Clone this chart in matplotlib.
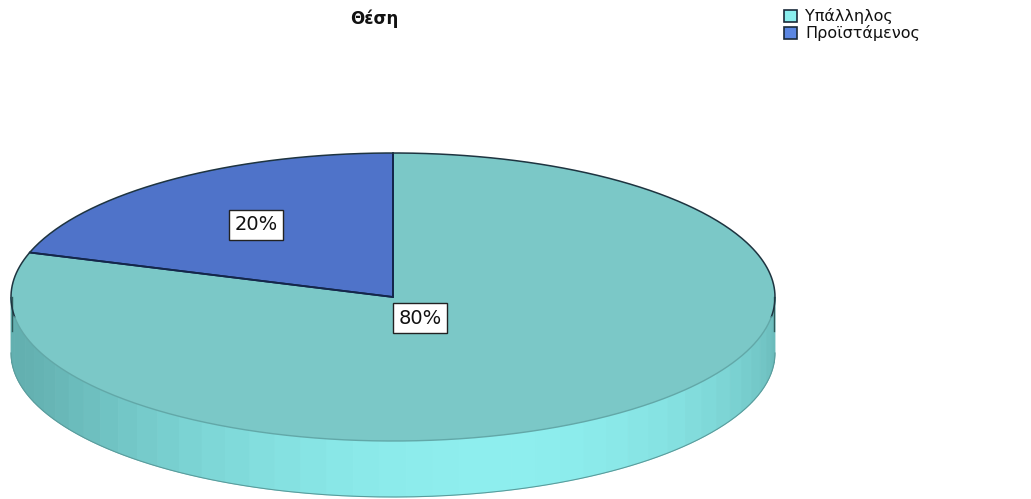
import matplotlib
matplotlib.use("Agg")
import matplotlib.pyplot as plt
import numpy as np
from matplotlib.patches import Polygon, Rectangle

title = "Θέση"
labels = ["Υπάλληλος", "Προϊστάμενος"]
values = [80, 20]
pct_labels = ["80%", "20%"]
top_colors = ["#7bc8c7", "#4f73c9"]
legend_colors = ["#8aeeee", "#5a86e2"]

W, H = 1031, 499
fig = plt.figure(figsize=(W / 100, H / 100), dpi=100)
ax = fig.add_axes([0, 0, 1, 1])
ax.set_xlim(0, W)
ax.set_ylim(H, 0)
ax.axis("off")

# ellipse geometry in pixels
cx, cy = 393, 297
a, b = 382, 144
depth = 56


def pt(theta_deg, dy=0):
    t = np.radians(theta_deg)
    return cx + a * np.cos(t), cy - b * np.sin(t) + dy


# ----------------------------
# Side wall (front half, shaded strips)
# ----------------------------
light = np.array([0x8e, 0xee, 0xee]) / 255
dark = np.array([0x63, 0xb0, 0xb0]) / 255
edges = np.linspace(180, 360, 46)
for t0, t1 in zip(edges[:-1], edges[1:]):
    tm = (t0 + t1) / 2
    c = np.cos(np.radians(tm - 285))
    k = c ** 1.5 if c > 0 else 0
    col = dark + (light - dark) * k
    ts = np.linspace(t0, t1, 6)
    upper = [pt(t) for t in ts]
    lower = [pt(t, depth) for t in ts[::-1]]
    ax.add_patch(Polygon(upper + lower, closed=True, facecolor=col,
                         edgecolor=col, linewidth=0.6))

# bottom rim outline
ts = np.linspace(180, 360, 200)
bx, by = zip(*[pt(t, depth) for t in ts])
ax.plot(bx, by, color="#5a9c9c", lw=0.8)
ax.plot([cx - a + 1, cx - a + 1], [cy, cy + depth * 0.6], color="#2f5a5a", lw=1.0)
ax.plot([cx + a - 1, cx + a - 1], [cy, cy + depth * 0.6], color="#2f5a5a", lw=1.0)

# ----------------------------
# Top wedges (clockwise from 12 o'clock)
# ----------------------------
start = 90.0
for v, c in zip(values, top_colors):
    sweep = 360.0 * v / sum(values)
    ts = np.linspace(start, start - sweep, 300)
    poly = [(cx, cy)] + [pt(t) for t in ts]
    ax.add_patch(Polygon(poly, closed=True, facecolor=c, edgecolor="none"))
    # radial edges
    for t in (start, start - sweep):
        px, py = pt(t)
        ax.plot([cx, px], [cy, py], color="#14264a", lw=1.3,
                solid_capstyle="round")
    start -= sweep

# top ellipse outline: dark at the back, soft at the front
ts = np.linspace(-8, 188, 300)
ex, ey = zip(*[pt(t) for t in ts])
ax.plot(ex, ey, color="#1e3440", lw=1.1)
ts = np.linspace(188, 352, 300)
ex, ey = zip(*[pt(t) for t in ts])
ax.plot(ex, ey, color="#62a8a8", lw=1.0)

# ----------------------------
# Percentage labels
# ----------------------------
label_pos = [(420, 318), (256, 225)]
for txt, (x, y) in zip(pct_labels, label_pos):
    ax.text(x, y, txt, ha="center", va="center", fontsize=14,
            color="#111111",
            bbox=dict(boxstyle="square,pad=0.3", facecolor="white",
                      edgecolor="#222222", linewidth=1.0))

# ----------------------------
# Title and legend
# ----------------------------
ax.text(374, 19, title, ha="center", va="center", fontsize=12,
        fontweight="bold", color="#111111")

for i, (lab, c) in enumerate(zip(labels, legend_colors)):
    y = 16 + i * 17
    ax.add_patch(Rectangle((784, y - 6), 13, 12, facecolor=c,
                           edgecolor="#1a2a3a", linewidth=1.2))
    ax.text(805, y, lab, ha="left", va="center", fontsize=11.5,
            color="#111111")

fig.savefig("out.png", dpi=100)
plt.close(fig)
